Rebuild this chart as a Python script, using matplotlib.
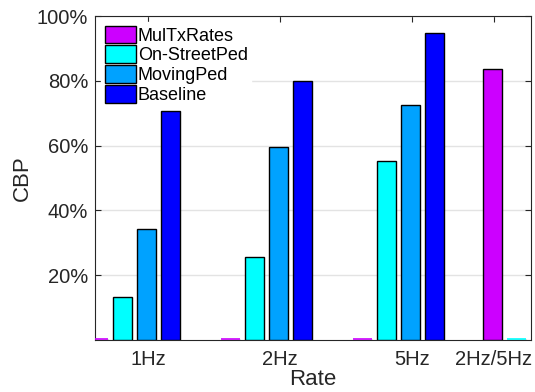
import matplotlib
matplotlib.use("Agg")
import matplotlib.pyplot as plt
import numpy as np
from matplotlib.ticker import FuncFormatter

plt.rcParams['font.family'] = ['Liberation Sans', 'DejaVu Sans']

# data (percent)
rates = ['1Hz', '2Hz', '5Hz', '2Hz/5Hz']
series = ['MulTxRates', 'On-StreetPed', 'MovingPed', 'Baseline']
multx = [0, 0, 0, 83.7]
onstreet = [13.4, 25.5, 55.3, 0]
moving = [34.2, 59.7, 72.6, 0]
baseline = [70.7, 79.9, 94.8, 0]
colors = ['#cc00ff', '#00ffff', '#00a2ff', '#0000ff']

group_x = np.array([1, 2, 3, 3.62])
step = 0.182
width = 0.148
# bar slot per group (the last group starts with MulTxRates at the tick)
base_slot = np.array([-2, -2, -2, 0])

fig = plt.figure(figsize=(5.35, 3.92), dpi=100)
ax = fig.add_axes([95/535, 1-340/392, 436/535, 324/392])

for i, (name, vals, c) in enumerate(zip(series, [multx, onstreet, moving, baseline], colors)):
    xs = group_x + (base_slot + i) * step - 0.012
    ax.bar(xs, vals, width=width, color=c, edgecolor='black', linewidth=1.0,
           label=name, zorder=3)
    # zero height bars still show a thin coloured line in the original
    zx = xs[np.array(vals) == 0]
    ax.hlines([0.3] * len(zx), zx - width / 2, zx + width / 2, colors=c, linewidth=1.2, zorder=4)

ax.set_xlim(0.598, 3.90)
ax.set_ylim(0, 100)
ax.set_xticks(group_x)
ax.set_xticklabels(rates)
ax.set_yticks([20, 40, 60, 80, 100])
ax.yaxis.set_major_formatter(FuncFormatter(lambda v, p: '%d%%' % v))
ax.grid(axis='y', color='#e3e3e3', linewidth=1, zorder=0)
ax.tick_params(direction='in', top=True, right=True, labelsize=14.5, colors='#262626', length=4)
ax.tick_params(axis='x', pad=7)
ax.tick_params(axis='y', pad=5)
for s in ax.spines.values():
    s.set_color('#262626')
    s.set_linewidth(0.8)
ax.set_ylabel('CBP', fontsize=16, color='#262626', labelpad=3)
ax.set_xlabel('Rate', fontsize=16, color='#262626', labelpad=0)

leg = ax.legend(loc='upper left', bbox_to_anchor=(6/436, 1 - 6/324), fontsize=13,
                frameon=True, fancybox=False, facecolor='white', edgecolor='white',
                framealpha=1, borderpad=0.2, labelspacing=0.05,
                handlelength=1.72, handleheight=1.12, handletextpad=0.12,
                borderaxespad=0)
leg.set_zorder(5)

fig.savefig('out.png', dpi=100)
